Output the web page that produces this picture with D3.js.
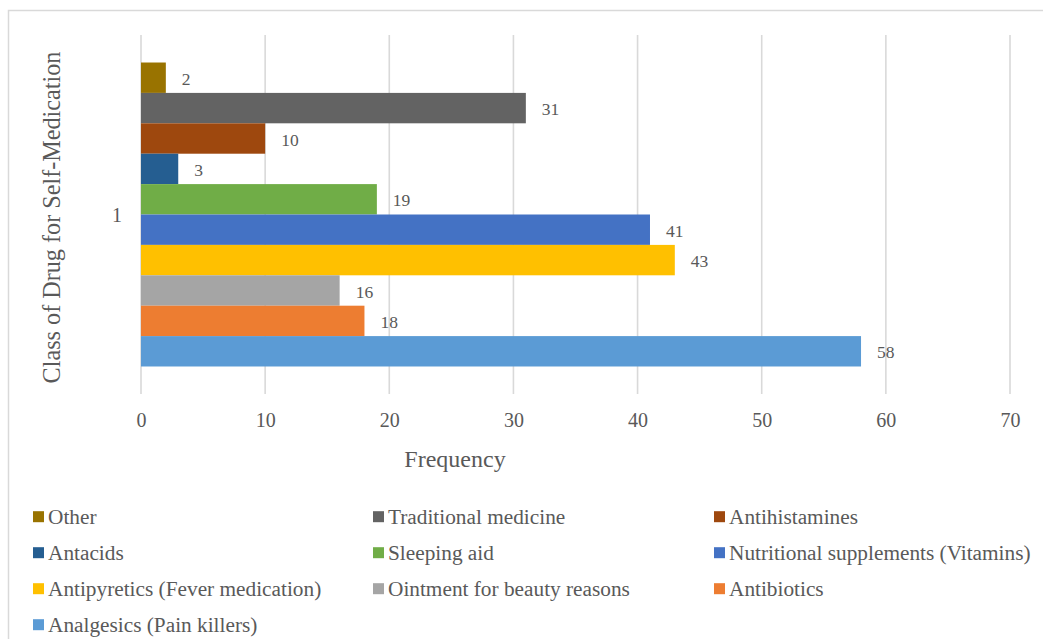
<!DOCTYPE html>
<html>
<head>
<meta charset="utf-8">
<script src="https://cdn.jsdelivr.net/npm/d3@7"></script>
<style>
  html, body { margin: 0; padding: 0; background: #ffffff; }
  svg { display: block; }
  svg text { font-family: "Liberation Serif", "Times New Roman", "DejaVu Serif", serif !important; fill: #595959; }
</style>
</head>
<body>
<svg id="chart" width="1043" height="639" font-family="Liberation Serif, Times New Roman, serif"></svg>
<script>
// Drug classes, top bar first
const drugClasses = [
  "Other",
  "Traditional medicine",
  "Antihistamines",
  "Antacids",
  "Sleeping aid",
  "Nutritional supplements (Vitamins)",
  "Antipyretics (Fever medication)",
  "Ointment for beauty reasons",
  "Antibiotics",
  "Analgesics (Pain killers)"
];
const frequencies = [2, 31, 10, 3, 19, 41, 43, 16, 18, 58];
const barColors = [
  "#997300", "#636363", "#9e480e", "#255e91", "#70ad47",
  "#4472c4", "#ffc000", "#a5a5a5", "#ed7d31", "#5b9bd5"
];
const categoryLabels = ["1"];
const xTicks = [0, 10, 20, 30, 40, 50, 60, 70];

const FONT = '"Liberation Serif", "Times New Roman", serif';
const svg = d3.select("#chart");

// chart frame
svg.append("rect")
  .attr("x", 8.5).attr("y", 10.5)
  .attr("width", 1200).attr("height", 800)
  .attr("fill", "none").attr("stroke", "#d9d9d9").attr("stroke-width", 1.5);

const plot = { left: 141, right: 1010, top: 35, bottom: 394 };

const x = d3.scaleLinear().domain([0, 70]).range([plot.left, plot.right]);

const yCat = d3.scaleBand()
  .domain(categoryLabels)
  .range([plot.top, plot.bottom])
  .paddingInner(0)
  .paddingOuter(0.0905);

const ySeries = d3.scaleBand()
  .domain(drugClasses)
  .range([0, yCat.bandwidth()])
  .padding(0);

// vertical gridlines
svg.append("g")
  .selectAll("line")
  .data(xTicks)
  .join("line")
  .attr("x1", d => x(d)).attr("x2", d => x(d))
  .attr("y1", plot.top).attr("y2", plot.bottom)
  .attr("stroke", "#d9d9d9").attr("stroke-width", 1.6);

// x axis tick labels
const xAxis = d3.axisBottom(x).tickValues(xTicks).tickSize(0).tickPadding(0);
const xg = svg.append("g")
  .attr("transform", `translate(0,${plot.bottom})`)
  .call(xAxis)
  .attr("font-family", FONT)
  .attr("font-size", null);
xg.select(".domain").remove();
xg.selectAll("text")
  .attr("y", 32.5).attr("dy", null)
  .style("font-size", "20px")
  .attr("fill", "#595959");

// category axis label
const yAxis = d3.axisLeft(yCat).tickSize(0).tickPadding(0);
const yg = svg.append("g")
  .attr("transform", `translate(122,0)`)
  .call(yAxis)
  .attr("font-family", FONT)
  .attr("font-size", null);
yg.select(".domain").remove();
yg.selectAll("text")
  .attr("x", 0).attr("dy", "0.35em")
  .style("font-size", "20px")
  .attr("fill", "#595959");

// bars
const groups = svg.append("g")
  .selectAll("g")
  .data(categoryLabels)
  .join("g")
  .attr("transform", d => `translate(0,${yCat(d)})`);

groups.selectAll("rect")
  .data(drugClasses.map((c, i) => ({ c, v: frequencies[i], col: barColors[i] })))
  .join("rect")
  .attr("x", x(0))
  .attr("y", d => ySeries(d.c))
  .attr("width", d => x(d.v) - x(0))
  .attr("height", ySeries.bandwidth())
  .attr("fill", d => d.col);

// value labels
groups.selectAll("text.val")
  .data(drugClasses.map((c, i) => ({ c, v: frequencies[i] })))
  .join("text")
  .attr("class", "val")
  .attr("x", d => x(d.v) + 16)
  .attr("y", d => ySeries(d.c) + ySeries.bandwidth() / 2 + 1)
  .attr("dy", "0.35em")
  .style("font-size", "17.5px")
  .text(d => d.v);

// axis titles
svg.append("text")
  .attr("x", 455).attr("y", 467)
  .attr("text-anchor", "middle")
  .style("font-size", "24px")
  .text("Frequency");

svg.append("text")
  .attr("transform", "translate(60,217.5) rotate(-90)")
  .attr("text-anchor", "middle")
  .style("font-size", "24.2px")
  .text("Class of Drug for Self-Medication");

// legend, three columns
const legendCols = [33, 373, 714];
const legendRow0 = 516.7, legendRowStep = 36;
const legend = svg.append("g")
  .selectAll("g")
  .data(drugClasses.map((c, i) => ({ c, col: barColors[i], i })))
  .join("g")
  .attr("transform", d => `translate(${legendCols[d.i % 3]},${legendRow0 + Math.floor(d.i / 3) * legendRowStep})`);

legend.append("rect")
  .attr("x", 0).attr("y", -5.5)
  .attr("width", 11).attr("height", 11)
  .attr("fill", d => d.col);

legend.append("text")
  .attr("x", 15).attr("y", 0)
  .attr("dy", "0.35em")
  .style("font-size", "21.3px")
  .text(d => d.c);
</script>
</body>
</html>
